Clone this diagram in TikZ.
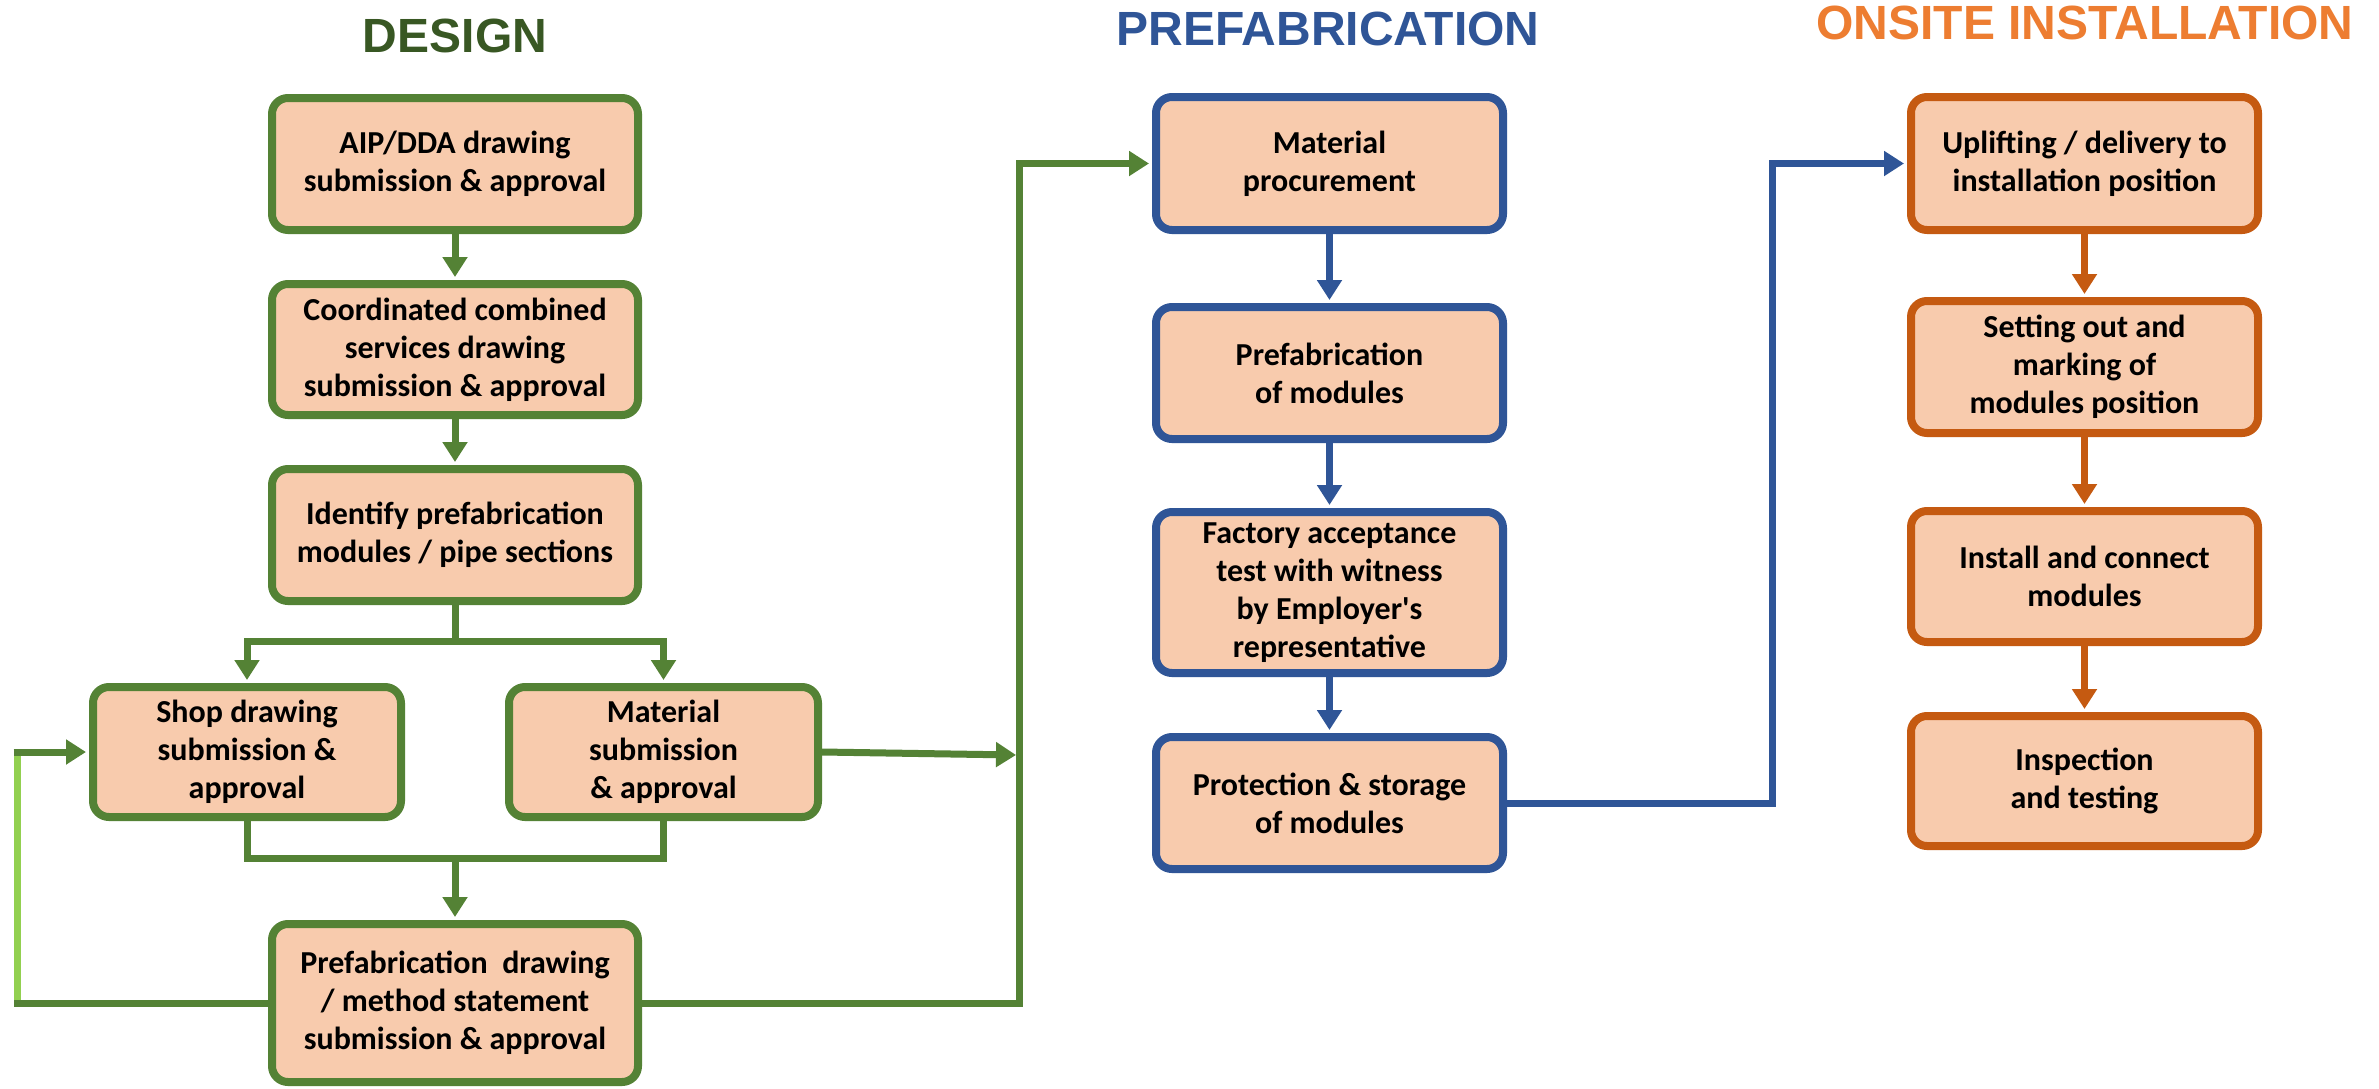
\documentclass[tikz,border=0pt]{standalone}
\usepackage{fontspec}
\usetikzlibrary{arrows.meta}
\newfontfamily\bodyfont{Carlito}
\newfontfamily\titlefont{Liberation Sans}
\definecolor{grn}{HTML}{548235}
\definecolor{dgrn}{HTML}{385723}
\definecolor{lgrn}{HTML}{92D050}
\definecolor{blu}{HTML}{2F5597}
\definecolor{org}{HTML}{C55A11}
\definecolor{lorg}{HTML}{ED7D31}
\definecolor{boxfill}{HTML}{F8CBAD}
\tikzset{
  box/.style={rectangle, rounded corners=8pt, fill=boxfill, line width=4pt,
    inner sep=0pt, align=center,
    font=\bodyfont\bfseries\fontsize{16pt}{19pt}\selectfont},
  gbox/.style={box, draw=grn},
  bbox/.style={box, draw=blu},
  obox/.style={box, draw=org},
  ttl/.style={inner sep=0pt, font=\titlefont\bfseries\fontsize{24pt}{28pt}\selectfont},
  conn/.style={line width=3.5pt},
  tip/.style={-{Triangle[length=10pt,width=12pt]}, shorten >=1.5pt},
  gline/.style={conn, draw=grn},
  garr/.style={conn, draw=grn, tip},
  barr/.style={conn, draw=blu, tip},
  oarr/.style={conn, draw=org, tip},
}
\begin{document}
\begin{tikzpicture}[x=0.5pt,y=-0.5pt]
\fill[white] (0,0) rectangle (2379,1088);
\useasboundingbox (0,0) rectangle (2379,1088);

% titles
\node[ttl, text=dgrn] (tdesign) at (455,35.5) {DESIGN};
\node[ttl, text=blu] (tprefab) at (1328,28.5) {PREFABRICATION};
\node[ttl, text=lorg] (tonsite) at (2085,23) {ONSITE INSTALLATION};

% design column
\node[gbox, minimum width=183pt, minimum height=66pt] (b1) at (455,164) {AIP/DDA drawing\\submission \& approval};
\node[gbox, minimum width=183pt, minimum height=65.5pt] (b2) at (455,349.5) {Coordinated combined\\services drawing\\submission \& approval};
\node[gbox, minimum width=183pt, minimum height=66pt] (b3) at (455,535) {Identify prefabrication\\modules / pipe sections};
\node[gbox, minimum width=154pt, minimum height=65pt] (shop) at (247,752) {Shop drawing\\submission \&\\approval};
\node[gbox, minimum width=154.5pt, minimum height=65pt] (matsub) at (663.5,752) {Material\\submission\\\& approval};
\node[gbox, minimum width=183pt, minimum height=79pt] (pdraw) at (455,1003) {Prefabrication\ \ drawing\\/ method statement\\submission \& approval};

% prefabrication column
\node[bbox, minimum width=173.5pt, minimum height=66.5pt] (mp) at (1329.5,163.5) {Material\\procurement};
\node[bbox, minimum width=173.5pt, minimum height=66pt] (pm) at (1329.5,373) {Prefabrication\\of modules};
\node[bbox, minimum width=173.5pt, minimum height=80.5pt] (fat) at (1329.5,592.5) {Factory acceptance\\test with witness\\by Employer's\\representative};
\node[bbox, minimum width=173.5pt, minimum height=66pt] (prot) at (1329.5,803) {Protection \& storage\\of modules};

% onsite column
\node[obox, minimum width=173.5pt, minimum height=66.5pt] (up) at (2084.5,163.5) {Uplifting / delivery to\\installation position};
\node[obox, minimum width=173.5pt, minimum height=66pt] (set) at (2084.5,367) {Setting out and\\marking of\\modules position};
\node[obox, minimum width=173.5pt, minimum height=65.5pt] (inst) at (2084.5,576.5) {Install and connect\\modules};
\node[obox, minimum width=173.5pt, minimum height=65pt] (insp) at (2084.5,781) {Inspection\\and testing};

% helper coordinates
\coordinate (split) at (455,641);
\coordinate (merge) at (455,858);
\coordinate (fbl) at (17,1003);
\coordinate (fbt) at (17,752);
\coordinate (gx) at (1019,163.5);
\coordinate (gm) at (1016,755);
\coordinate (bx) at (1772,163.5);

% design connectors
\draw[garr] (b1.south) -- (b2.north);
\draw[garr] (b2.south) -- (b3.north);
\draw[gline] (b3.south) -- (split);
\draw[garr] (split) -| (shop.north);
\draw[garr] (split) -| (matsub.north);
\draw[gline] (shop.south) |- (merge) -| (matsub.south);
\draw[garr] (merge) -- (pdraw.north);
% feedback loop
\draw[conn, draw=lgrn] (fbl) -- (fbt);
\draw[gline] (pdraw.west) -- ([xshift=-1.75pt]fbl);
\draw[garr, shorten <=-1.75pt] (fbt) -- (shop.west);
% to prefabrication
\draw[garr, shorten >=0pt] (matsub.east) -- (gm);
\draw[garr] (pdraw.east) -| (gx) -- (mp.west);

% prefabrication connectors
\draw[barr] (mp.south) -- (pm.north);
\draw[barr] (pm.south) -- (fat.north);
\draw[barr] (fat.south) -- (prot.north);
\draw[barr] (prot.east) -| (bx) -- (up.west);

% onsite connectors
\draw[oarr] (up.south) -- (set.north);
\draw[oarr] (set.south) -- (inst.north);
\draw[oarr] (inst.south) -- (insp.north);
\end{tikzpicture}
\end{document}
